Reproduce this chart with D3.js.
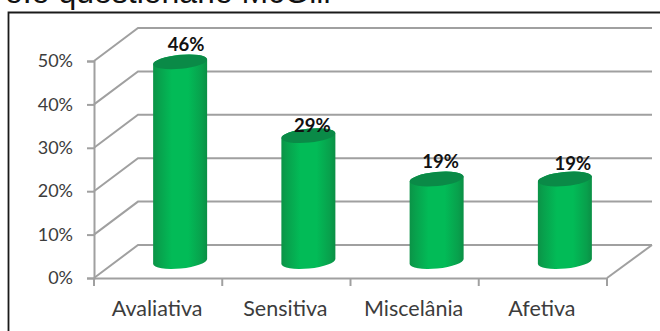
<!DOCTYPE html>
<html>
<head>
<meta charset="utf-8">
<script src="https://cdn.jsdelivr.net/npm/d3@7/dist/d3.min.js"></script>
<style>
html,body{margin:0;padding:0;background:#fff;overflow:hidden}
svg{display:block}
</style>
</head>
<body>
<svg id="chart" width="660" height="331"></svg>
<script>
const categories = ["Avaliativa", "Sensitiva", "Miscelânia", "Afetiva"];
const shares = [46, 29, 19, 19];
const tickValues = [0, 10, 20, 30, 40, 50];

// Drawing geometry of the pseudo-3D plot box
const plot = { left: 94, right: 607, bottom: 278, top: 61 };
const depth = { dx: 44, dy: -33 };
const barRadius = 27;
const capRy = 7;
const capTilt = 2.6;
const gridColor = "#a0a0a0";
const labelNudge = [[6, -11], [4, -4], [4, -11], [8, -9]];

const svg = d3.select("#chart");
const x = d3.scaleBand().domain(categories).range([plot.left, plot.right]);
const y = d3.scaleLinear().domain([0, 50]).range([plot.bottom, plot.top]);

const defs = svg.append("defs");
const grad = defs.append("linearGradient").attr("id", "cyl")
  .attr("x1", 0).attr("x2", 1).attr("y1", 0).attr("y2", 0);
[[0, "#0b9347"], [0.1, "#08a04c"], [0.35, "#02bb57"], [0.65, "#02bb57"], [0.9, "#08a04c"], [1, "#0b8f45"]]
  .forEach(([o, c]) => grad.append("stop").attr("offset", o).attr("stop-color", c));

// Caption line cut off by the top of the frame
svg.append("text").attr("x", 5).attr("y", 3)
  .attr("font-family", "Liberation Sans").attr("font-size", 32).attr("fill", "#111")
  .text("o.o questionário McGill");

// Outer frame
svg.append("path")
  .attr("d", "M8.5,331V12.5H660")
  .attr("fill", "none").attr("stroke", "#1a1a1a").attr("stroke-width", 1.8);

// Back wall gridlines, side wall diagonals, floor
const grid = svg.append("g").attr("fill", "none").attr("stroke", gridColor).attr("stroke-width", 2);
tickValues.forEach(v => {
  grid.append("path").attr("d", d3.line()([
    [plot.left, y(v)],
    [plot.left + depth.dx, y(v) + depth.dy],
    [plot.right + depth.dx + 1, y(v) + depth.dy]
  ]));
});
grid.append("path").attr("d", d3.line()([
  [plot.right, plot.bottom],
  [plot.right + depth.dx + 1, plot.bottom + depth.dy]
]));

// Value axis
const yAxis = svg.append("g").attr("transform", `translate(${plot.left},0)`)
  .call(d3.axisLeft(y).tickValues(tickValues).tickSize(7).tickPadding(14).tickFormat(d => d + "%"));
// Category axis, ticks on the band edges
const xAxis = svg.append("g").attr("transform", `translate(0,${plot.bottom})`)
  .call(d3.axisBottom(x).tickSize(0).tickPadding(23));
xAxis.selectAll(".tick text").attr("dx", -1);
const edges = categories.map(c => x(c)).concat([plot.right]);
xAxis.selectAll("line.edge").data(edges).enter().append("line").attr("class", "edge")
  .attr("x1", d => d).attr("x2", d => d).attr("y1", 0).attr("y2", 8);

[yAxis, xAxis].forEach(a => {
  a.selectAll(".domain, .tick line, line.edge").attr("stroke", gridColor).attr("stroke-width", 2);
  a.selectAll("text").attr("font-family", "Lato").attr("fill", "#3c3c3c");
});
yAxis.selectAll("text").attr("font-size", 18);
xAxis.selectAll("text").attr("font-size", 21.5);

// Cylinders stand mid-way along the floor depth
const cx = c => x(c) + x.bandwidth() / 2 + depth.dx / 2;
const floorY = depth.dy / 2;
const bars = svg.append("g").selectAll("g").data(categories).enter().append("g");

bars.append("path").attr("fill", "url(#cyl)").attr("d", (c, i) => {
  const l = cx(c) - barRadius, r = cx(c) + barRadius;
  const top = y(shares[i]) + floorY, base = y(0) + floorY;
  return `M${l},${top + capTilt}L${l},${base + capTilt}` +
    `A${barRadius},${capRy} -5.5 0 0 ${r},${base - capTilt}` +
    `L${r},${top - capTilt}` +
    `A${barRadius},${capRy} -5.5 0 0 ${l},${top + capTilt}Z`;
});
bars.append("ellipse")
  .attr("cx", 0).attr("cy", 0).attr("rx", barRadius).attr("ry", capRy)
  .attr("fill", "#0a8a47")
  .attr("transform", (c, i) => `translate(${cx(c)},${y(shares[i]) + floorY}) rotate(-5.5)`);

bars.append("text")
  .attr("x", (c, i) => cx(c) + labelNudge[i][0])
  .attr("y", (c, i) => y(shares[i]) + floorY + labelNudge[i][1])
  .attr("text-anchor", "middle")
  .attr("font-family", "Lato").attr("font-weight", 700).attr("font-size", 18.5).attr("fill", "#111")
  .text((c, i) => shares[i] + "%");
</script>
</body>
</html>
